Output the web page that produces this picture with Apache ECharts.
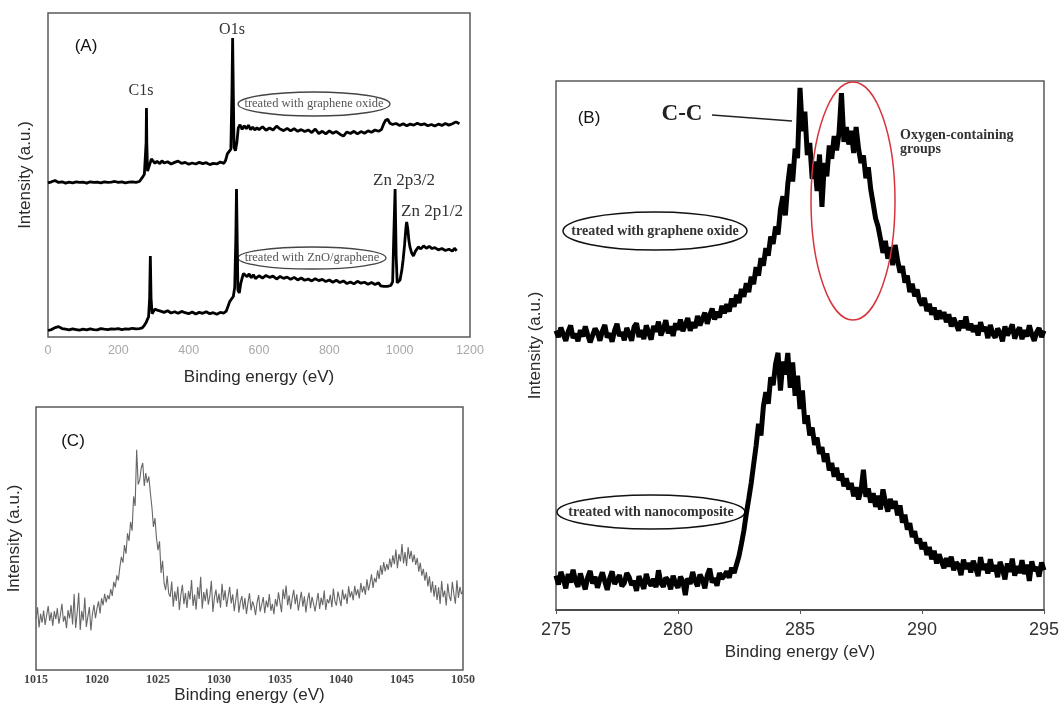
<!DOCTYPE html>
<html>
<head>
<meta charset="utf-8">
<script src="https://cdn.jsdelivr.net/npm/echarts@6/dist/echarts.min.js"></script>
<style>
html,body{margin:0;padding:0;background:#fff;}
#chart{width:1062px;height:708px;}
</style>
</head>
<body>
<div id="chart"></div>
<script>
// ---------- Panel A : survey spectra [binding energy (eV), intensity (a.u.)] ----------
const surveyTicksA = [0, 200, 400, 600, 800, 1000, 1200];
const surveyGO = [[0,47.6],[10,47.9],[20,48.3],[30,47.7],[40,47.9],[50,47.5],[60,47.8],[70,47.6],[80,47.9],[90,47.7],[100,47.8],[110,47.5],[120,47.9],[130,47.7],[140,47.8],[150,47.6],[160,47.9],[170,47.7],[180,47.8],[190,48.0],[200,47.7],[210,47.9],[220,47.6],[230,47.8],[240,47.9],[250,47.7],[260,48.0],[265,48.1],[270,49.5],[274,50.2],[277,50.6],[279,60.0],[280,70.7],[281,60.0],[283,51.2],[286,51.0],[290,53.5],[294,55.0],[298,54.5],[304,53.6],[310,54.2],[318,53.5],[324,54.4],[330,53.7],[340,54.1],[350,53.4],[360,53.9],[370,54.3],[380,53.6],[390,53.9],[400,53.3],[410,53.7],[420,53.4],[430,53.9],[440,53.5],[450,53.8],[460,53.2],[470,53.6],[480,53.4],[490,54.0],[500,53.6],[505,54.5],[510,56.5],[515,56.0],[520,58.0],[523,75.0],[525,92.3],[527,75.0],[529,58.5],[533,57.5],[537,60.0],[541,64.5],[546,65.5],[552,64.1],[558,65.2],[564,64.3],[570,65.4],[576,64.0],[582,64.8],[588,63.9],[594,64.6],[600,64.0],[610,64.9],[620,63.8],[630,64.5],[640,63.9],[650,65.1],[660,64.2],[670,63.7],[680,64.4],[690,63.6],[700,64.3],[710,63.5],[720,64.0],[730,63.4],[740,63.9],[750,63.1],[760,64.2],[770,62.8],[780,63.5],[790,62.7],[800,63.6],[810,62.9],[820,63.4],[830,62.6],[840,62.0],[850,63.3],[860,62.8],[870,63.5],[880,62.7],[890,63.4],[900,62.9],[910,63.6],[920,63.2],[930,63.9],[940,63.5],[948,64.0],[954,65.6],[960,66.9],[966,67.2],[972,66.0],[980,65.6],[990,65.9],[1000,65.3],[1010,65.8],[1020,65.2],[1030,65.7],[1040,65.4],[1050,66.0],[1060,65.5],[1070,65.8],[1080,65.2],[1090,65.6],[1100,65.1],[1110,65.7],[1120,65.3],[1130,65.9],[1140,65.4],[1150,65.8],[1160,66.4],[1170,65.8]];
const surveyZnO = [[0,2.0],[10,2.3],[20,2.9],[30,3.2],[40,2.6],[50,2.4],[60,2.2],[70,2.5],[80,2.3],[90,2.1],[100,2.4],[110,2.2],[120,2.5],[130,2.3],[140,2.2],[150,2.6],[160,2.4],[170,2.3],[180,2.5],[190,2.4],[200,2.6],[210,2.3],[220,2.5],[230,2.4],[240,2.7],[250,2.5],[260,2.6],[268,2.8],[274,3.6],[279,4.5],[283,5.5],[286,6.2],[289,12.0],[291,25.0],[293,12.0],[296,7.2],[300,7.8],[304,8.6],[308,9.0],[313,8.2],[320,8.0],[330,7.6],[340,8.1],[350,7.4],[360,7.8],[370,7.3],[380,7.9],[390,7.5],[400,7.2],[410,7.7],[420,7.1],[430,7.6],[440,7.3],[450,7.8],[460,7.2],[470,7.5],[480,7.0],[490,7.6],[500,7.4],[507,8.0],[512,9.5],[517,11.0],[522,11.6],[527,12.5],[531,15.4],[534,30.0],[536,45.7],[538,30.0],[540,14.5],[544,13.6],[548,16.5],[552,18.2],[556,19.6],[560,19.8],[566,18.6],[572,19.5],[578,18.3],[584,19.2],[590,18.0],[600,18.9],[610,18.2],[620,19.0],[630,18.4],[640,18.8],[650,17.9],[660,18.7],[670,18.1],[680,18.5],[690,17.8],[700,18.4],[710,17.6],[720,18.2],[730,17.5],[740,17.9],[750,17.3],[760,18.0],[770,17.4],[780,17.8],[790,17.1],[800,17.6],[810,16.9],[820,17.5],[830,16.8],[840,17.3],[850,16.5],[860,17.0],[870,16.4],[880,17.2],[890,16.6],[900,16.9],[910,16.3],[920,16.8],[930,16.2],[940,16.7],[946,15.8],[955,15.6],[965,15.6],[975,15.9],[980,17.0],[983,30.0],[987,45.7],[990,25.0],[993,16.7],[997,17.0],[1001,17.6],[1006,20.5],[1010,24.0],[1014,28.5],[1018,34.0],[1020,35.5],[1023,33.5],[1026,30.0],[1029,27.9],[1034,26.0],[1039,25.0],[1045,26.5],[1053,27.8],[1060,27.2],[1068,28.1],[1076,27.4],[1084,28.0],[1092,27.3],[1100,27.6],[1110,26.9],[1120,27.3],[1130,26.7],[1140,27.1],[1150,26.5],[1156,27.4],[1162,26.6]];

// ---------- Panel B : C 1s spectra, 275.0 .. 295.0 eV every 0.1 eV ----------
const c1sStart = 275.0, c1sStep = 0.1;
const c1sGO = [52.8,51.6,53.4,52.1,50.9,52.6,53.8,51.4,52.2,50.8,
52.9,51.7,53.6,52.0,50.6,51.9,53.2,52.4,50.9,52.7,
53.9,51.5,52.3,50.7,52.8,54.1,51.8,52.5,51.0,53.3,
52.2,50.9,53.5,54.2,51.6,52.9,51.2,53.8,52.4,51.1,
53.7,52.6,54.5,51.9,53.1,54.8,52.3,53.6,51.8,54.2,
53.0,54.9,52.7,53.9,55.2,52.8,54.4,53.3,55.6,53.8,
55.0,56.2,54.1,55.7,57.0,54.9,56.4,55.3,57.5,56.1,
57.8,56.4,58.9,57.3,59.6,58.0,60.7,59.2,61.8,60.1,
63.0,61.6,64.8,63.2,66.5,65.1,68.4,67.0,70.6,69.2,
72.5,71.0,75.8,78.2,74.6,80.5,84.3,81.0,87.2,85.4,
98.7,90.5,94.2,86.0,88.3,81.5,84.8,79.2,86.1,76.2,
84.5,82.0,87.8,85.3,89.6,86.9,90.2,97.7,88.5,91.3,
88.0,90.6,86.4,91.3,87.2,84.5,85.9,81.6,83.7,79.5,
76.8,74.0,72.5,70.1,67.5,69.8,66.4,68.6,65.2,69.0,
66.1,63.8,65.0,61.9,63.2,60.1,61.7,59.3,60.6,58.4,
57.6,59.0,56.5,57.9,55.8,57.2,54.9,56.6,55.1,56.3,
54.4,55.9,53.6,55.2,54.0,52.8,54.7,53.3,55.5,52.9,
54.1,52.6,53.8,51.9,54.4,52.7,53.5,51.4,53.9,52.2,
51.5,53.2,52.4,50.8,53.6,51.9,52.8,54.0,51.3,52.6,
53.4,51.2,52.9,51.7,53.8,52.1,50.9,52.5,53.3,51.6,52.8];
const c1sNano = [6.5,4.8,7.2,5.9,4.1,6.8,5.2,7.6,5.5,4.4,
6.9,5.3,3.9,6.2,7.4,5.0,6.3,4.2,5.8,7.1,
5.4,3.8,6.0,7.3,4.9,5.7,6.6,4.5,5.1,7.0,
6.2,4.7,5.5,3.6,6.4,5.2,4.0,6.8,5.3,4.6,
5.9,4.3,7.5,5.1,4.4,6.1,5.6,3.9,6.5,5.0,
4.2,6.3,5.4,2.8,6.0,4.9,7.2,5.5,4.5,6.7,
5.8,4.1,6.6,7.8,5.2,6.0,4.6,7.0,5.9,6.5,
7.3,6.1,8.0,7.0,8.6,10.2,12.5,15.0,18.2,21.0,
24.0,27.5,31.0,35.2,33.0,38.5,41.2,39.0,44.0,42.5,
46.5,48.6,41.5,47.0,44.5,48.6,42.0,46.8,40.5,44.3,
38.0,41.5,35.2,36.8,33.0,34.5,31.2,32.6,29.5,30.8,
28.0,29.6,26.4,27.8,25.2,26.9,24.5,25.8,23.4,24.9,
22.8,24.0,21.5,23.2,20.9,22.6,26.5,21.4,23.0,20.3,
22.1,19.5,21.6,19.0,22.8,20.4,18.6,21.0,19.2,20.6,
17.9,19.8,16.5,18.0,15.2,16.4,13.8,14.9,12.6,13.5,
11.5,12.8,10.4,11.9,9.6,11.2,8.8,10.5,9.2,7.9,
9.8,8.2,10.1,7.5,9.0,8.4,6.6,9.5,7.8,8.9,
7.1,9.3,8.0,6.4,10.0,7.6,8.7,6.9,9.6,7.3,
8.5,6.2,9.1,7.7,5.8,8.8,7.2,9.7,6.5,8.3,
7.0,9.4,6.8,8.6,5.5,9.2,7.4,8.1,6.3,9.0,7.5];

// ---------- Panel C : Zn 2p spectrum, 1015.000 .. 1050.000 eV every 0.125 eV ----------
const zn2pStart = 1015.0, zn2pStep = 0.125;
const zn2p = [19.5,23.8,16.2,21.4,18.0,22.6,17.1,20.9,
24.3,18.7,21.9,16.8,22.4,19.3,23.5,17.6,
21.0,25.2,18.4,20.6,15.9,22.8,19.6,24.7,
17.3,28.9,16.0,21.7,29.4,15.2,22.5,18.8,
27.6,16.4,20.3,23.9,15.0,21.2,24.8,19.7,
23.4,26.1,21.5,27.3,24.6,29.0,25.7,28.4,
26.9,30.8,28.2,33.5,31.4,36.0,34.1,39.2,
43.0,40.8,47.5,44.2,52.0,49.1,56.3,53.0,
66.0,62.4,83.7,70.5,72.2,76.8,78.7,70.0,
74.9,71.2,73.6,67.3,62.0,54.4,57.8,50.2,
45.6,48.9,36.9,41.5,33.0,30.4,35.8,29.2,
27.8,33.6,24.1,29.9,26.3,31.7,22.8,28.6,
32.4,25.0,29.3,23.6,30.1,26.8,34.2,24.4,
28.7,22.9,31.5,27.0,35.4,23.3,29.6,26.2,
31.0,24.8,28.3,33.9,22.1,27.5,30.6,25.4,
29.1,23.7,32.8,26.5,30.3,24.0,27.9,31.6,
25.3,28.8,22.4,26.7,30.9,21.8,25.9,28.1,
23.0,27.4,21.3,25.6,29.2,22.7,26.1,24.3,
20.9,25.8,28.5,22.2,24.9,27.7,21.6,26.4,
23.8,28.9,22.5,25.1,21.2,27.0,24.2,29.5,
25.5,22.0,30.7,26.9,32.1,24.6,28.4,23.1,
27.2,30.5,25.0,28.8,22.6,26.3,29.7,24.1,
28.0,21.9,26.6,29.4,23.5,27.8,25.2,22.3,
26.0,29.3,23.2,27.5,24.7,30.2,22.8,26.9,
25.4,28.6,23.9,31.0,26.2,24.5,29.8,27.1,
24.3,30.6,26.8,29.0,25.1,31.8,27.6,29.9,
26.5,32.0,28.4,30.7,27.2,33.1,29.5,31.9,
28.6,34.5,30.3,32.8,36.4,31.2,35.0,33.3,
37.9,34.6,39.8,36.2,41.0,37.5,40.3,38.1,
42.4,39.0,43.6,40.2,45.8,38.7,44.1,41.3,
47.9,40.5,44.8,39.6,46.7,42.2,45.3,41.0,
43.9,40.0,42.6,37.4,40.8,35.9,38.5,34.0,
37.2,31.8,35.6,29.4,33.7,27.9,32.3,26.6,
31.4,25.1,33.8,27.7,30.2,24.5,32.9,28.0,
26.3,33.5,29.0,25.2,34.1,27.4,31.6,28.8,
30.0];

const xTitle = 'Binding energy (eV)';
const yTitle = 'Intensity (a.u.)';

function pairs(start, step, vals) {
  return vals.map((v, i) => [+(start + i * step).toFixed(3), v]);
}
const plain = v => String(v);

const SANS = '"Liberation Sans", Arial, sans-serif';
const SERIF = '"Liberation Serif", "Times New Roman", serif';

const chart = echarts.init(document.getElementById('chart'), null, {renderer: 'canvas'});

const gridStyle = {show: true, borderColor: '#5a5a5a', borderWidth: 1.5, backgroundColor: 'transparent', containLabel: false};

function yAx(idx, gap) {
  return {
    gridIndex: idx, type: 'value', min: 0, max: 100,
    name: yTitle, nameLocation: 'middle', nameGap: gap, nameRotate: 90,
    nameTextStyle: {fontFamily: SANS, fontSize: 17, color: '#2a2a2a'},
    axisLine: {show: false}, axisTick: {show: false}, axisLabel: {show: false}, splitLine: {show: false}
  };
}

const option = {
  animation: false,
  backgroundColor: '#fff',
  grid: [
    Object.assign({left: 48, top: 13, width: 422, height: 324}, gridStyle),
    Object.assign({left: 556, top: 81, width: 488, height: 529}, gridStyle),
    Object.assign({left: 36, top: 407, width: 427, height: 263}, gridStyle)
  ],
  xAxis: [
    {
      gridIndex: 0, type: 'value', min: surveyTicksA[0], max: surveyTicksA[surveyTicksA.length - 1], interval: 200,
      name: xTitle, nameLocation: 'middle', nameGap: 32,
      nameTextStyle: {fontFamily: SANS, fontSize: 17, color: '#2a2a2a'},
      axisLine: {show: false}, axisTick: {show: false}, splitLine: {show: false},
      axisLabel: {fontFamily: SANS, fontSize: 12.5, color: '#a8a8a8', margin: 7, showMinLabel: true, showMaxLabel: true, formatter: plain}
    },
    {
      gridIndex: 1, type: 'value', min: 275, max: 295, interval: 5,
      name: xTitle, nameLocation: 'middle', nameGap: 34,
      nameTextStyle: {fontFamily: SANS, fontSize: 17, color: '#2a2a2a'},
      axisLine: {show: true, lineStyle: {color: '#3a3a3a', width: 1.5}},
      axisTick: {show: true, length: 4, lineStyle: {color: '#555'}},
      splitLine: {show: false},
      axisLabel: {fontFamily: SANS, fontSize: 18, color: '#333', margin: 11, showMinLabel: true, showMaxLabel: true, formatter: plain}
    },
    {
      gridIndex: 2, type: 'value', min: 1015, max: 1050, interval: 5,
      name: xTitle, nameLocation: 'middle', nameGap: 16,
      nameTextStyle: {fontFamily: SANS, fontSize: 17, color: '#2a2a2a'},
      axisLine: {show: false}, axisTick: {show: false}, splitLine: {show: false},
      axisLabel: {fontFamily: SERIF, fontSize: 12, fontWeight: 'bold', color: '#444', margin: 4, showMinLabel: true, showMaxLabel: true, formatter: plain}
    }
  ],
  yAxis: [yAx(0, 14), yAx(1, 12), yAx(2, 13)],
  series: [
    {type: 'line', xAxisIndex: 0, yAxisIndex: 0, data: surveyGO, symbol: 'none',
      lineStyle: {color: '#000', width: 2.8}, z: 3},
    {type: 'line', xAxisIndex: 0, yAxisIndex: 0, data: surveyZnO, symbol: 'none',
      lineStyle: {color: '#000', width: 2.8}, z: 3},
    {type: 'line', xAxisIndex: 1, yAxisIndex: 1, data: pairs(c1sStart, c1sStep, c1sGO), symbol: 'none',
      lineStyle: {color: '#000', width: 5}, z: 3},
    {type: 'line', xAxisIndex: 1, yAxisIndex: 1, data: pairs(c1sStart, c1sStep, c1sNano), symbol: 'none',
      lineStyle: {color: '#000', width: 5}, z: 3},
    {type: 'line', xAxisIndex: 2, yAxisIndex: 2, data: pairs(zn2pStart, zn2pStep, zn2p), symbol: 'none',
      lineStyle: {color: '#666', width: 1.1}, z: 3}
  ],
  graphic: [
    // Panel A annotations
    {type: 'text', x: 86, y: 46, style: {text: '(A)', font: '17px ' + SANS, fill: '#111', textAlign: 'center', textVerticalAlign: 'middle'}},
    {type: 'text', x: 141, y: 91, style: {text: 'C1s', font: '16px ' + SERIF, fill: '#333', textAlign: 'center', textVerticalAlign: 'middle'}},
    {type: 'text', x: 232, y: 30, style: {text: 'O1s', font: '16px ' + SERIF, fill: '#333', textAlign: 'center', textVerticalAlign: 'middle'}},
    {type: 'text', x: 404, y: 181, style: {text: 'Zn 2p3/2', font: '17px ' + SERIF, fill: '#333', textAlign: 'center', textVerticalAlign: 'middle'}},
    {type: 'text', x: 432, y: 212, style: {text: 'Zn 2p1/2', font: '17px ' + SERIF, fill: '#333', textAlign: 'center', textVerticalAlign: 'middle'}},
    {type: 'ellipse', shape: {cx: 314, cy: 104, rx: 76, ry: 12}, style: {fill: 'none', stroke: '#444', lineWidth: 1.3}},
    {type: 'text', x: 314, y: 104, style: {text: 'treated with graphene oxide', font: '12.5px ' + SERIF, fill: '#555', textAlign: 'center', textVerticalAlign: 'middle'}},
    {type: 'ellipse', shape: {cx: 312, cy: 258, rx: 74, ry: 11}, style: {fill: 'none', stroke: '#444', lineWidth: 1.3}},
    {type: 'text', x: 312, y: 258, style: {text: 'treated with ZnO/graphene', font: '12.5px ' + SERIF, fill: '#555', textAlign: 'center', textVerticalAlign: 'middle'}},
    // Panel B annotations
    {type: 'text', x: 589, y: 118, style: {text: '(B)', font: '17px ' + SANS, fill: '#111', textAlign: 'center', textVerticalAlign: 'middle'}},
    {type: 'text', x: 682, y: 114, style: {text: 'C-C', font: 'bold 23px ' + SERIF, fill: '#222', textAlign: 'center', textVerticalAlign: 'middle'}},
    {type: 'line', shape: {x1: 712, y1: 115, x2: 792, y2: 121}, style: {stroke: '#222', lineWidth: 1.3}},
    {type: 'text', x: 900, y: 135, style: {text: 'Oxygen-containing', font: 'bold 14px ' + SERIF, fill: '#333', textAlign: 'left', textVerticalAlign: 'middle'}},
    {type: 'text', x: 900, y: 149, style: {text: 'groups', font: 'bold 14px ' + SERIF, fill: '#333', textAlign: 'left', textVerticalAlign: 'middle'}},
    {type: 'ellipse', z: 10, shape: {cx: 853, cy: 201, rx: 42, ry: 119}, style: {fill: 'none', stroke: '#d8343c', lineWidth: 1.5}},
    {type: 'ellipse', shape: {cx: 655, cy: 231, rx: 92, ry: 19}, style: {fill: 'none', stroke: '#111', lineWidth: 1.5}},
    {type: 'text', x: 655, y: 231, style: {text: 'treated with graphene oxide', font: 'bold 14px ' + SERIF, fill: '#333', textAlign: 'center', textVerticalAlign: 'middle'}},
    {type: 'ellipse', shape: {cx: 651, cy: 512, rx: 94, ry: 17}, style: {fill: 'none', stroke: '#111', lineWidth: 1.5}},
    {type: 'text', x: 651, y: 512, style: {text: 'treated with nanocomposite', font: 'bold 14px ' + SERIF, fill: '#333', textAlign: 'center', textVerticalAlign: 'middle'}},
    // Panel C annotation
    {type: 'text', x: 73, y: 441, style: {text: '(C)', font: '17px ' + SANS, fill: '#111', textAlign: 'center', textVerticalAlign: 'middle'}}
  ]
};

chart.setOption(option);
</script>
</body>
</html>
